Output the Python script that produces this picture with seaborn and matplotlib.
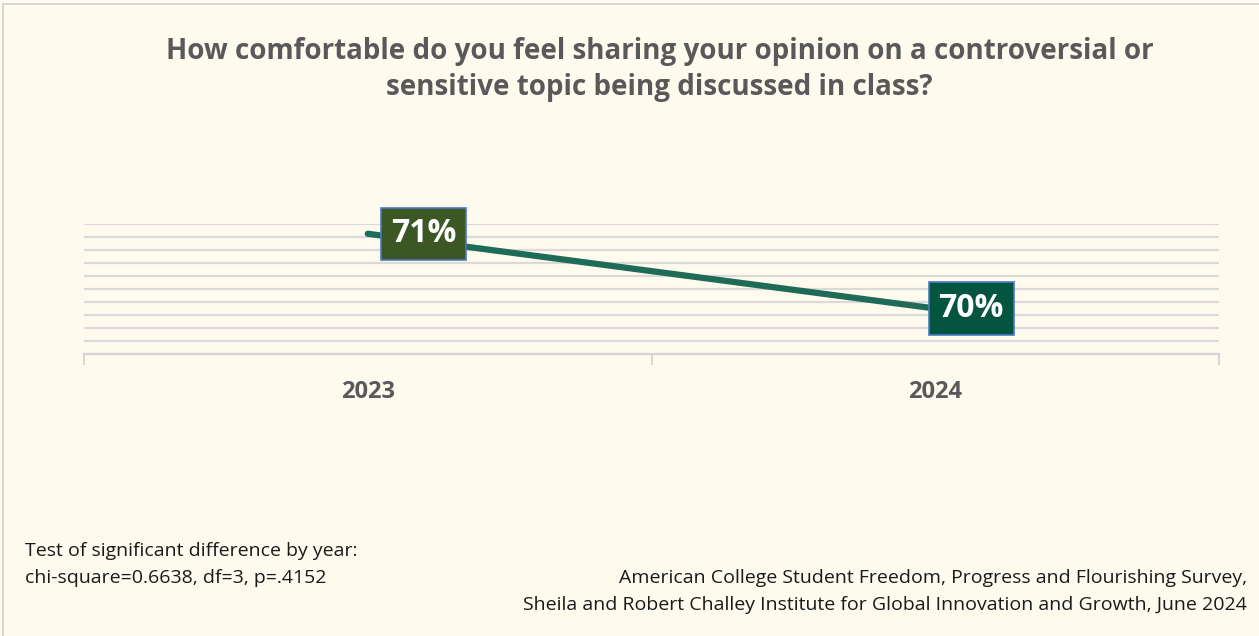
import pandas as pd
import seaborn as sns
import matplotlib.pyplot as plt
from matplotlib.patches import Rectangle

# data
years = ['2023', '2024']
comfortable = [0.7135, 0.7020]
labels = ['71%', '70%']
box_colors = ['#3B5724', '#04553F']

df = pd.DataFrame({'year': years, 'share': comfortable})

sns.set_theme(style='white')
plt.rcParams['font.family'] = ['Open Sans', 'DejaVu Sans']

bg = '#FEFAEE'
fig = plt.figure(figsize=(12.59, 6.36), dpi=100, facecolor=bg)
ax = fig.add_axes([84 / 1259, 1 - 354 / 636, (1219 - 84) / 1259, 130 / 636])
ax.set_facecolor(bg)

# frame around the chart area
fig.patches.append(Rectangle((3 / 1259, -0.01), 1.01, 1 - 4 / 636 + 0.01,
                             transform=fig.transFigure, fill=False,
                             edgecolor='#D0D0D0', linewidth=1.2))

sns.lineplot(data=df, x='year', y='share', ax=ax, color='#1E6B57',
             linewidth=4.5, solid_capstyle='round', sort=False)

ax.set_xlim(-0.5, 1.5)
ax.set_ylim(0.695, 0.715)
ax.set_yticks([0.695 + 0.002 * i for i in range(11)])
ax.yaxis.grid(True, color='#DADADA', linewidth=1.6)
ax.set_axisbelow(True)
ax.tick_params(axis='y', left=False, labelleft=False)
for s in ['top', 'right', 'left']:
    ax.spines[s].set_visible(False)
ax.spines['bottom'].set_color('#D5D5D5')
ax.spines['bottom'].set_linewidth(1.6)

ax.set_xticks([0, 1])
ax.set_xticklabels(years, fontsize=17, fontweight='bold', color='#595959')
ax.set_xticks([-0.5, 0.5, 1.5], minor=True)
ax.tick_params(axis='x', which='major', length=0, pad=19)
ax.tick_params(axis='x', which='minor', length=8, width=1.4, color='#D5D5D5',
               bottom=True)
ax.set_xlabel('')
ax.set_ylabel('')

# data labels to the right of the points (offsets in pixels -> points)
offsets = [56, 36]
for i, (lab, v, c) in enumerate(zip(labels, comfortable, box_colors)):
    ax.annotate(lab, (i, v), xytext=(offsets[i] * 0.72, 0), textcoords='offset points',
                ha='center', va='center', fontsize=23, fontweight='bold',
                color='white',
                bbox=dict(boxstyle='square,pad=0.3', facecolor=c,
                          edgecolor='#4C78C9', linewidth=1.2))

fig.text(0.524, 1 - 52 / 636, 'How comfortable do you feel sharing your opinion on a controversial or',
         ha='center', va='center', fontsize=20, fontweight='bold', color='#595959')
fig.text(0.524, 1 - 87 / 636, 'sensitive topic being discussed in class?',
         ha='center', va='center', fontsize=20, fontweight='bold', color='#595959')

fig.text(25 / 1259, 1 - 551 / 636, 'Test of significant difference by year:',
         ha='left', va='center', fontsize=14, color='#1A1A1A')
fig.text(25 / 1259, 1 - 578 / 636, 'chi-square=0.6638, df=3, p=.4152',
         ha='left', va='center', fontsize=14, color='#1A1A1A')
fig.text(1247 / 1259, 1 - 578 / 636, 'American College Student Freedom, Progress and Flourishing Survey,',
         ha='right', va='center', fontsize=14, color='#1A1A1A')
fig.text(1247 / 1259, 1 - 605 / 636, 'Sheila and Robert Challey Institute for Global Innovation and Growth, June 2024',
         ha='right', va='center', fontsize=14, color='#1A1A1A')

fig.savefig('out.png', dpi=100, facecolor=bg)
